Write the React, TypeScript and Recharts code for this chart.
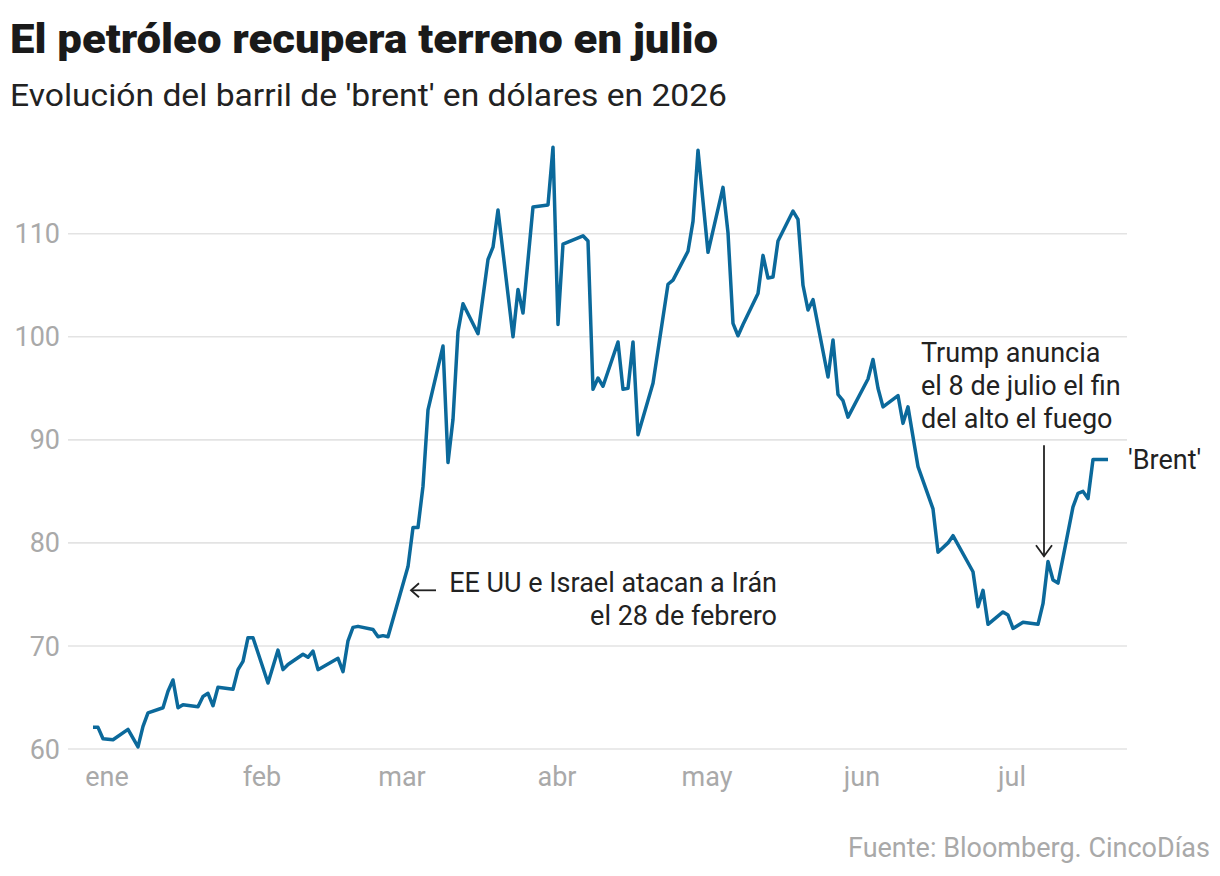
import { CartesianGrid, Line, LineChart, ReferenceDot, XAxis, YAxis } from "recharts";

// day of year (approx. trading days) and Brent close, USD
const days = [
  1, 2, 3, 5, 8, 10, 11, 12, 15, 16, 17, 18, 19, 22, 23, 24, 25, 26, 29, 30, 31,
  32, 33, 36, 38, 39, 40, 43, 44, 45, 46, 50, 51, 52, 53, 54, 57, 58, 59,
  60, 64, 65, 66, 67, 68, 71, 72, 73, 74, 75, 78, 80, 81, 82, 85, 86, 87, 89,
  92, 93, 94, 95, 99, 100, 101, 102, 103, 106, 107, 108, 109, 110, 113, 116, 117, 120,
  121, 122, 124, 127, 128, 129, 130, 131, 134, 135, 136, 137, 138, 141, 142, 143, 144,
  145, 148, 149, 150, 151, 152, 156, 157, 158, 159, 162, 163, 164, 166, 169, 170, 172,
  173, 177, 178, 179, 180, 183, 184, 185, 187, 190, 191, 192, 193, 194, 197, 198, 199,
  200, 201, 204,
];
const brent = [
  62.1, 62.1, 61.0, 60.9, 61.9, 60.2, 62.2, 63.5, 64.0, 65.6, 66.7, 64.0, 64.3, 64.1, 65.1, 65.4, 64.2, 66.0, 65.8, 67.7, 68.5,
  70.8, 70.8, 66.4, 69.6, 67.7, 68.2, 69.2, 68.9, 69.5, 67.7, 68.8, 67.5, 70.5, 71.8, 71.9, 71.6, 70.9, 71.0,
  70.9, 77.7, 81.5, 81.5, 85.5, 92.9, 99.1, 87.8, 92.0, 100.5, 103.2, 100.3, 107.5, 108.7, 112.3, 100.0, 104.6, 102.3, 112.6,
  112.8, 118.4, 101.2, 109.0, 109.8, 109.3, 94.9, 96.0, 95.2, 99.5, 94.9, 95.0, 99.5, 90.5, 95.5, 105.1, 105.5, 108.3,
  111.2, 118.1, 108.2, 114.5, 110.1, 101.3, 100.1, 101.2, 104.2, 107.9, 105.7, 105.8, 109.3, 112.2, 111.4, 105.0, 102.6,
  103.6, 96.1, 99.7, 94.4, 93.8, 92.2, 95.9, 97.8, 95.0, 93.2, 94.3, 91.6, 93.2, 87.4, 83.3, 79.1, 80.0,
  80.7, 77.2, 73.8, 75.4, 72.1, 73.3, 73.0, 71.7, 72.3, 72.1, 74.1, 78.2, 76.4, 76.1, 83.5, 84.8, 85.0,
  84.3, 88.1, 88.1,
];

const monthTicks = [1, 32, 60, 91, 121, 152, 182];
const monthLabels = ["ene", "feb", "mar", "abr", "may", "jun", "jul"];
const priceTicks = [60, 70, 80, 90, 100, 110];

const data = days.map((day, i) => ({ day, brent: brent[i] }));

const FONT = "Roboto, 'Noto Sans', sans-serif";
const GREY = "#a9a9a9";
const INK = "#222";
const BLUE = "#0b699b";

const MonthTick = (props: any) => {
  const { x, y, payload } = props;
  const i = monthTicks.indexOf(payload.value);
  return (
    <text x={x + 14} y={y} dy="0.71em" textAnchor="middle" fill={GREY} fontSize={27} fontFamily={FONT}>
      {monthLabels[i]}
    </text>
  );
};

const AttackNote = ({ cx, cy }: any) => (
  <g fontFamily={FONT} fontSize={27} fill={INK}>
    <line x1={cx} y1={cy} x2={cx + 25} y2={cy} stroke={INK} strokeWidth={1.8} />
    <polyline points={`${cx + 8},${cy - 7} ${cx},${cy} ${cx + 8},${cy + 7}`} fill="none" stroke={INK} strokeWidth={1.8} />
    <text x={cx + 366} y={cy + 2} textAnchor="end">EE UU e Israel atacan a Irán</text>
    <text x={cx + 366} y={cy + 35} textAnchor="end">el 28 de febrero</text>
  </g>
);

const TrumpNote = ({ cx, cy }: any) => (
  <g fontFamily={FONT} fontSize={27} fill={INK}>
    <line x1={cx} y1={cy - 111} x2={cx} y2={cy} stroke={INK} strokeWidth={1.8} />
    <polyline points={`${cx - 8},${cy - 11} ${cx},${cy} ${cx + 8},${cy - 11}`} fill="none" stroke={INK} strokeWidth={1.8} />
    <text x={cx - 123} y={cy - 194}>Trump anuncia</text>
    <text x={cx - 123} y={cy - 161}>el 8 de julio el fin</text>
    <text x={cx - 123} y={cy - 128}>del alto el fuego</text>
  </g>
);

const BrentLabel = ({ cx, cy }: any) => (
  <text x={cx + 20} y={cy + 10} fontFamily={FONT} fontSize={27} fill={INK}>
    'Brent'
  </text>
);

export default function App() {
  return (
    <div style={{ position: "absolute", left: 0, top: 0, width: 1220, height: 876, background: "#fff" }}>
      <LineChart width={1220} height={876} data={data} margin={{ top: 141, right: 93, bottom: 87, left: 8 }}>
        <CartesianGrid vertical={false} horizontalValues={priceTicks} stroke="#e3e3e3" strokeWidth={1.6} />
        <XAxis
          dataKey="day"
          type="number"
          domain={[-4, 207.8]}
          ticks={monthTicks}
          axisLine={false}
          tickLine={false}
          tickSize={0}
          tickMargin={18}
          height={40}
          tick={<MonthTick />}
          interval={0}
        />
        <YAxis
          type="number"
          domain={[60, 119]}
          ticks={priceTicks}
          axisLine={false}
          tickLine={false}
          tickSize={0}
          tickMargin={8}
          width={60}
          tick={{ fill: GREY, fontSize: 27, fontFamily: FONT }}
          allowDataOverflow
        />
        <Line
          dataKey="brent"
          type="linear"
          stroke={BLUE}
          strokeWidth={3.5}
          dot={false}
          activeDot={false}
          strokeLinejoin="round"
          isAnimationActive={false}
        />
        <ReferenceDot x={64.6} y={75.4} shape={<AttackNote />} />
        <ReferenceDot x={191.2} y={78.7} shape={<TrumpNote />} />
        <ReferenceDot x={204} y={88.1} shape={<BrentLabel />} />
      </LineChart>
      <svg width={1220} height={876} style={{ position: "absolute", left: 0, top: 0, pointerEvents: "none" }}>
        <text x={10} y={53} fontFamily={FONT} fontWeight={900} fontSize={40} fill="#1a1a1a" textLength={708} lengthAdjust="spacingAndGlyphs">
          El petróleo recupera terreno en julio
        </text>
        <text x={10} y={106} fontFamily={FONT} fontSize={32} fill={INK} textLength={717} lengthAdjust="spacingAndGlyphs">
          Evolución del barril de 'brent' en dólares en 2026
        </text>
        <text x={1210} y={857} textAnchor="end" fontFamily={FONT} fontSize={27} fill={GREY}>
          Fuente: Bloomberg. CincoDías
        </text>
      </svg>
    </div>
  );
}
